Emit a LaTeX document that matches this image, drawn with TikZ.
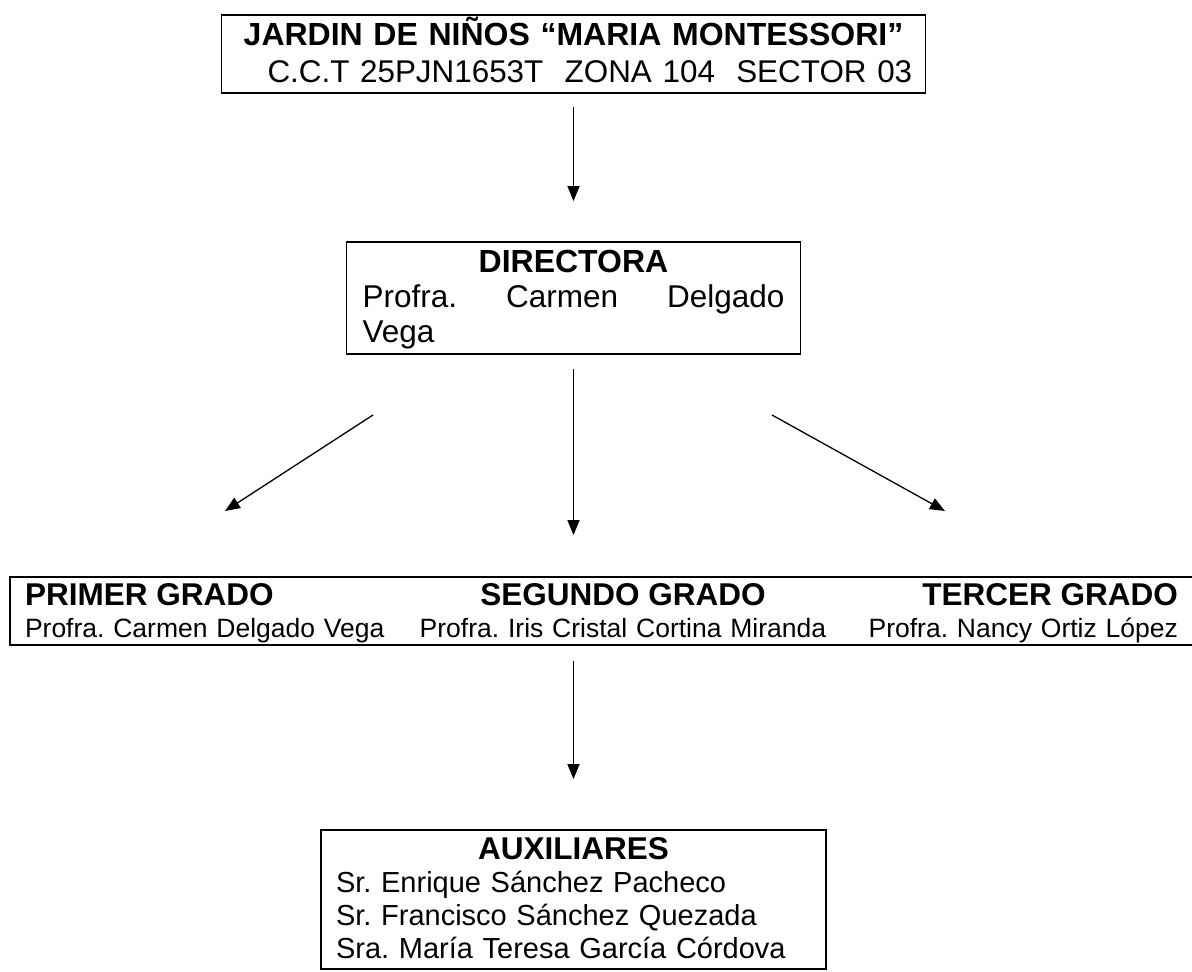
\documentclass[tikz,border=0pt]{standalone}
\usepackage{fontspec}
\setmainfont{Liberation Sans}
\usepackage{tikz}
\usetikzlibrary{arrows.meta}
\frenchspacing

\begin{document}
\begin{tikzpicture}[->,>={Triangle[length=15pt,width=12pt]},line width=1.3pt,
    caja/.style={draw,line width=1.8pt,inner ysep=0pt,align=left}]
		\useasboundingbox (0,0) rectangle (1192pt,-972pt);
		\node[caja,inner xsep=10pt,text width=684pt,align=center,text height=30pt,text depth=48pt,
		      font=\fontsize{32}{37}\selectfont]  (jardin)   at (573.5pt,-54pt)
		      {{\bfseries JARDIN DE NIÑOS “MARIA MONTESSORI”}\\\makebox[\linewidth][l]{\fontsize{31.4}{37}\selectfont\hspace*{36pt}C.C.T 25PJN1653T\ \ ZONA 104\ \ SECTOR 03}};
		\node[caja,inner xsep=16pt,text width=422pt,text height=30pt,text depth=82pt,
		      font=\fontsize{31.5}{35}\selectfont]  (directora)  [below of=jardin,node distance=244pt]
		      {\makebox[\linewidth]{\fontsize{32}{37}\selectfont\bfseries DIRECTORA}\\Profra.\hfill Carmen\hfill Delgado\\Vega};
		\node[caja,inner xsep=15pt,text width=1153pt,text height=28pt,text depth=40pt,
		      font=\fontsize{26.5}{32}\selectfont]  (grados)   at (601.5pt,-611pt)
		      {{\fontsize{31.5}{37}\selectfont\bfseries\makebox[396pt][l]{PRIMER GRADO}\makebox[404pt]{SEGUNDO GRADO}\makebox[353pt][r]{TERCER GRADO}}\\
		       \makebox[396pt][l]{Profra. Carmen Delgado Vega}\makebox[404pt]{Profra. Iris Cristal Cortina Miranda}\makebox[353pt][r]{Profra. Nancy Ortiz López}};
		\node[caja,inner xsep=15pt,text width=475pt,text height=29pt,text depth=110pt,
		      font=\fontsize{29}{33}\selectfont]  (auxiliares)  [below of=directora,node distance=601.5pt]
		      {\makebox[\linewidth]{\fontsize{31.5}{37}\selectfont\bfseries AUXILIARES}\\Sr. Enrique Sánchez Pacheco\\Sr. Francisco Sánchez Quezada\\Sra. María Teresa García Córdova};
		\coordinate (izq1) at (373pt,-415pt);
		\coordinate (izq2) at (225pt,-511pt);
		\coordinate (der1) at (772pt,-415pt);
		\coordinate (der2) at (945pt,-511pt);
		\draw[shorten <=13pt,shorten >=40pt] (jardin.south) -- (directora.north);
		\draw[shorten <=14pt,shorten >=41pt] (directora.south) -- (directora.south |- grados.north);
		\draw (izq1) -- (izq2);
		\draw (der1) -- (der2);
		\draw[shorten <=15pt,shorten >=50pt] (grados.south -| auxiliares.north) -- (auxiliares.north);
\end{tikzpicture}
\end{document}
